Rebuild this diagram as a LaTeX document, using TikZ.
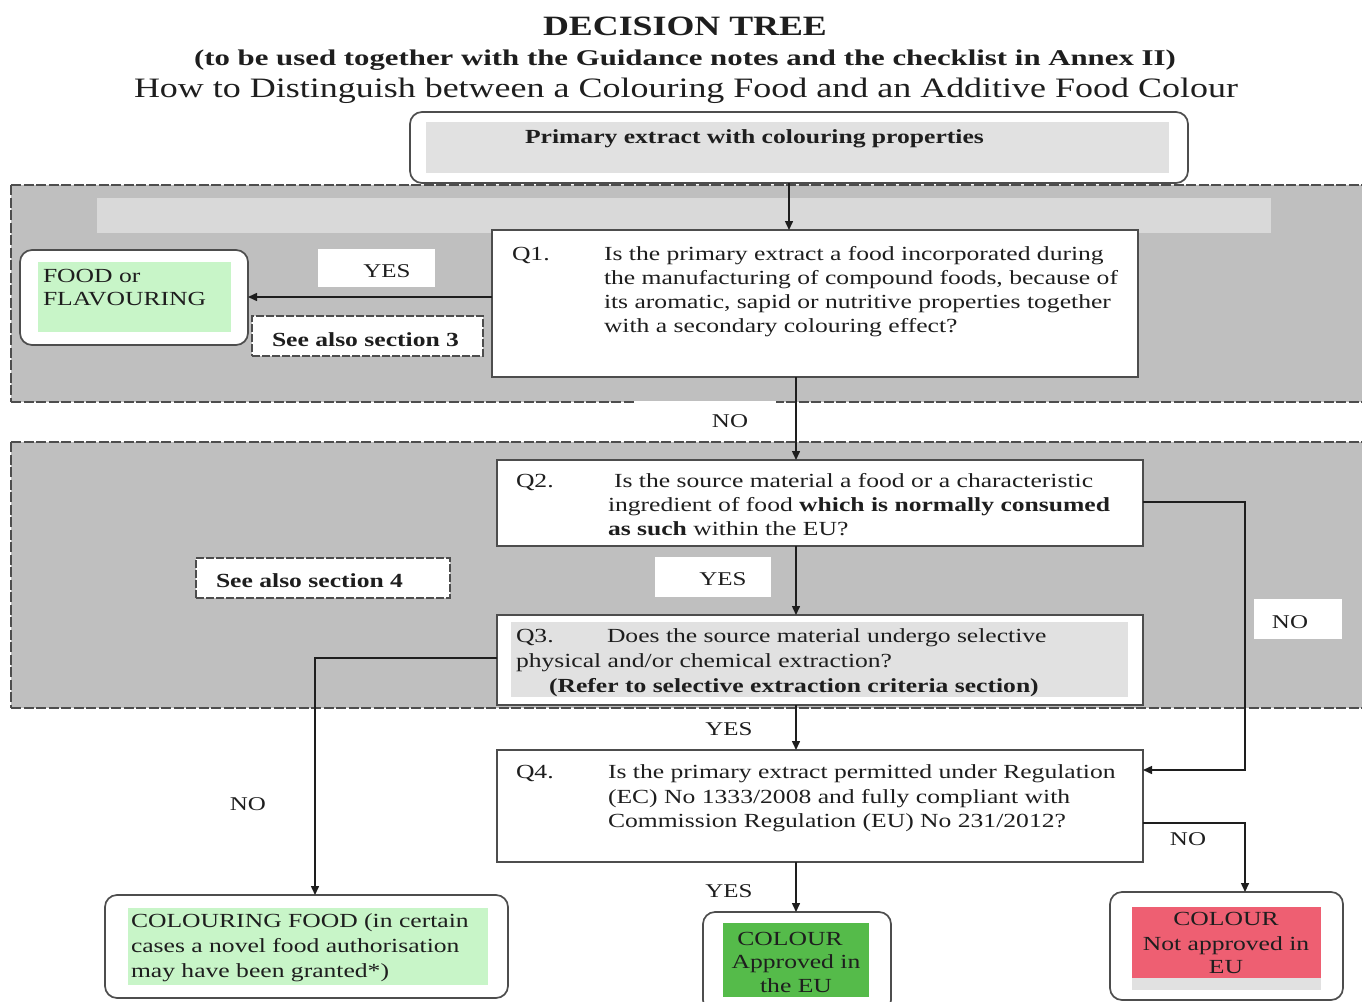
\documentclass[tikz,border=0pt]{standalone}
\usepackage{graphicx}
\usepackage{fontspec}
\setmainfont{Liberation Serif}[FakeStretch=1.28]
\usetikzlibrary{arrows.meta}
\definecolor{bandgray}{HTML}{BFBFBF}
\definecolor{stripgray}{HTML}{D9D9D9}
\definecolor{innergray}{HTML}{E1E1E1}
\definecolor{lgreen}{HTML}{C8F5C8}
\definecolor{dgreen}{HTML}{55BB4A}
\definecolor{cred}{HTML}{EE5F72}
\definecolor{edgegray}{HTML}{4D4D4D}
\definecolor{ink}{HTML}{1E1E1E}
\begin{document}
\begin{tikzpicture}[x=1pt,y=-1pt,
  every node/.style={inner sep=0pt, outer sep=0pt, text=ink},
  qbox/.style={draw=edgegray, line width=1.7pt, fill=white, anchor=north west},
  rbox/.style={qbox, rounded corners=12pt},
  fillr/.style={anchor=north west, draw=none},
  lbl/.style={fill=white, draw=none, anchor=north west},
  dbox/.style={draw=edgegray, line width=1.3pt, dash pattern=on 8pt off 2pt, fill=white, anchor=north west},
  bandline/.style={draw=edgegray, line width=1.5pt, dash pattern=on 10pt off 2.5pt},
  arr/.style={draw=ink, line width=1.5pt, -{Triangle[length=9pt,width=8pt]}},
  tl/.style={anchor=base west, font=\fontsize{20}{24}\selectfont},
  tlb/.style={anchor=base west, font=\fontsize{20}{24}\selectfont\bfseries},
  tc/.style={anchor=base, font=\fontsize{20}{24}\selectfont},
  yn/.style={anchor=base, font=\fontsize{19.5}{24}\selectfont},
]
\useasboundingbox (0,0) rectangle (1362,1001);
\clip (0,0) rectangle (1362,1001);

% ---------- titles
\node[anchor=base, font=\fontsize{28}{30}\selectfont\bfseries] (title) at (685,35) {DECISION TREE};
\node[anchor=base, font=\fontsize{22.5}{24}\selectfont\bfseries] (subtitle) at (685,65) {\scalebox{1.07}[1]{(to be used together with the Guidance notes and the checklist in Annex II)}};
\node[anchor=base, font=\fontsize{28.1}{32}\selectfont] (howto) at (686,97) {How to Distinguish between a Colouring Food and an Additive Food Colour};

% ---------- bands
\fill[bandgray] (11,185) rectangle (1362,402);
\draw[bandline] (11,185) -- (1362,185);
\draw[bandline] (11,185) -- (11,402);
\draw[bandline] (11,402) -- (1362,402);
\fill[bandgray] (11,442) rectangle (1362,708);
\draw[bandline] (11,442) -- (1362,442);
\draw[bandline] (11,442) -- (11,708);
\draw[bandline] (11,708) -- (1362,708);
\node[fillr, fill=stripgray, minimum width=1174pt, minimum height=35pt] (stripbar) at (97,198) {};

% ---------- helper coordinates
\coordinate (ca) at (789,0);
\coordinate (cx) at (796,0);
\coordinate (yfood) at (0,297);
\coordinate (k1) at (1245,502);
\coordinate (k2) at (1245,770);
\coordinate (k3) at (315,658);
\coordinate (k4) at (1245,823);

% ---------- top box
\node[rbox, minimum width=778pt, minimum height=71pt] (top) at (410,112) {};
\node[fillr, fill=innergray, minimum width=743pt, minimum height=51pt] (topin) at (426,122) {};
\node[tlb] (toptxt) at (525,143) {Primary extract with colouring properties};

% ---------- Q1
\node[qbox, minimum width=646pt, minimum height=147pt] (q1) at (492,230) {};
\node[tl] (q1n) at (512,260) {Q1.};
\node[tl] (q1a) at (604,260) {Is the primary extract a food incorporated during};
\node[tl] (q1b) at (604,284) {the manufacturing of compound foods, because of};
\node[tl] (q1c) at (604,308) {its aromatic, sapid or nutritive properties together};
\node[tl] (q1d) at (604,332) {with a secondary colouring effect?};

% ---------- FOOD or FLAVOURING
\node[rbox, minimum width=228pt, minimum height=95pt] (food) at (20,250) {};
\node[fillr, fill=lgreen, minimum width=193pt, minimum height=70pt] (foodin) at (38,262) {};
\node[tl] (fooda) at (43,282) {FOOD or};
\node[tl] (foodb) at (43,305) {FLAVOURING};

\node[lbl, minimum width=117pt, minimum height=38pt] (yes1box) at (318,249) {};
\node[yn] (yes1) at (387,277) {YES};
\node[dbox, minimum width=231pt, minimum height=40pt] (see3box) at (252,316) {};
\node[tlb] (see3) at (272,346) {See also section 3};

% ---------- gap label
\node[lbl, minimum width=142pt, minimum height=39pt] (nogap) at (634,401) {};
\node[yn] (no1) at (730,427) {NO};

% ---------- Q2
\node[qbox, minimum width=646pt, minimum height=86pt] (q2) at (497,460) {};
\node[tl] (q2n) at (516,487) {Q2.};
\node[tl] (q2a) at (614,487) {Is the source material a food or a characteristic};
\node[tl] (q2b) at (608,511) {ingredient of food \textbf{which is normally consumed}};
\node[tl] (q2c) at (608,535) {\textbf{as such} within the EU?};

\node[dbox, minimum width=254pt, minimum height=40pt] (see4box) at (196,558) {};
\node[tlb] (see4) at (216,587) {See also section 4};
\node[lbl, minimum width=116pt, minimum height=40pt] (yes2box) at (655,557) {};
\node[yn] (yes2) at (723,585) {YES};
\node[lbl, minimum width=88pt, minimum height=40pt] (no2box) at (1254,599) {};
\node[yn] (no2) at (1290,628) {NO};

% ---------- Q3
\node[qbox, minimum width=646pt, minimum height=90pt] (q3) at (497,615) {};
\node[fillr, fill=innergray, minimum width=617pt, minimum height=75pt] (q3in) at (511,622) {};
\node[tl] (q3n) at (516,642) {Q3.};
\node[tl] (q3a) at (607,642) {Does the source material undergo selective};
\node[tl] (q3b) at (516,667) {physical and/or chemical extraction?};
\node[tlb] (q3c) at (549,692) {(Refer to selective extraction criteria section)};

% ---------- Q4
\node[yn] (yes3) at (729,735) {YES};
\node[qbox, minimum width=646pt, minimum height=112pt] (q4) at (497,750) {};
\node[tl] (q4n) at (516,778) {Q4.};
\node[tl] (q4a) at (608,778) {Is the primary extract permitted under Regulation};
\node[tl] (q4b) at (608,803) {(EC) No 1333/2008 and fully compliant with};
\node[tl] (q4c) at (608,827) {Commission Regulation (EU) No 231/2012?};

\node[yn] (no3) at (248,810) {NO};
\node[yn] (yes4) at (729,897) {YES};
\node[yn] (no4) at (1188,845) {NO};

% ---------- outcomes
\node[rbox, minimum width=403pt, minimum height=103pt] (cf) at (105,895) {};
\node[fillr, fill=lgreen, minimum width=360pt, minimum height=77pt] (cfin) at (128,908) {};
\node[tl] (cfa) at (131,927) {COLOURING FOOD (in certain};
\node[tl] (cfb) at (131,952) {cases a novel food authorisation};
\node[tl] (cfc) at (131,977) {may have been granted*)};

\node[rbox, minimum width=188pt, minimum height=100pt] (ap) at (703,912) {};
\node[fillr, fill=dgreen, minimum width=146pt, minimum height=74pt] (apin) at (723,923) {};
\node[tc] (apa) at (790,945) {COLOUR};
\node[tc] (apb) at (796,968) {Approved in};
\node[tc] (apc) at (796,992) {the EU};

\node[rbox, minimum width=233pt, minimum height=108pt] (na) at (1110,892) {};
\node[fillr, fill=innergray, minimum width=189pt, minimum height=83pt] (nagray) at (1132,907) {};
\node[fillr, fill=cred, minimum width=189pt, minimum height=71pt] (nain) at (1132,907) {};
\node[tc] (naa) at (1226,925) {COLOUR};
\node[tc] (nab) at (1226,950) {Not approved in};
\node[tc] (nac) at (1226,973) {EU};

% ---------- connectors
\draw[arr] (top.south -| ca) -- (q1.north -| ca);
\draw[arr] (q1.west |- yfood) -- (food.east |- yfood);
\draw[arr] (q1.south -| cx) -- (q2.north -| cx);
\draw[arr] (q2.south -| cx) -- (q3.north -| cx);
\draw[arr] (q3.south -| cx) -- (q4.north -| cx);
\draw[arr] (q4.south -| cx) -- (ap.north -| cx);
\draw[arr] (q2.east |- k1) -- (k1) -- (k2) -- (q4.east |- k2);
\draw[arr] (q3.west |- k3) -- (k3) -- (cf.north -| k3);
\draw[arr] (q4.east |- k4) -- (k4) -- (na.north -| k4);
\end{tikzpicture}
\end{document}
